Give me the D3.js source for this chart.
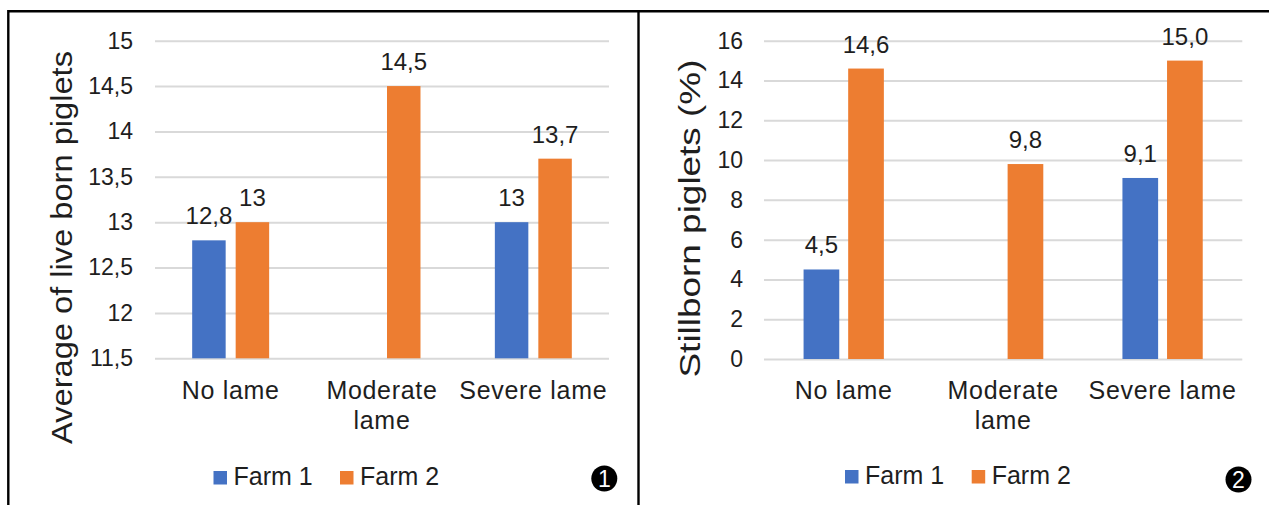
<!DOCTYPE html>
<html>
<head>
<meta charset="utf-8">
<script src="https://cdn.jsdelivr.net/npm/d3@7"></script>
<style>
  html, body { margin: 0; padding: 0; background: #fff; }
  svg { display: block; }
  text { font-family: "Liberation Sans", Arial, sans-serif; fill: #1e1e1e; }
</style>
</head>
<body>
<svg id="fig" width="1269" height="505"></svg>
<script>
// Lameness categories (x-axis) and how their labels wrap
const categories = ["No lame", "Moderate lame", "Severe lame"];
const categoryLines = [["No lame"], ["Moderate", "lame"], ["Severe lame"]];
const seriesNames = ["Farm 1", "Farm 2"];

// Panel 1: average number of live born piglets
const liveBornFarm1 = [12.8, null, 13.0];
const liveBornFarm2 = [13.0, 14.5, 13.7];
const liveBornTicks = [11.5, 12, 12.5, 13, 13.5, 14, 14.5, 15];

// Panel 2: stillborn piglets (%)
const stillbornFarm1 = [4.5, null, 9.1];
const stillbornFarm2 = [14.6, 9.8, 15.0];
const stillbornTicks = [0, 2, 4, 6, 8, 10, 12, 14, 16];

const colors = { "Farm 1": "#4472C4", "Farm 2": "#ED7D31" };
const comma = s => s.replace(".", ",");

const svg = d3.select("#fig");

// Frame around both panels and the divider between them
const frame = svg.append("g").attr("fill", "none").attr("stroke", "#000").attr("stroke-width", 2.4);
frame.append("path").attr("d", "M8.3,520 V11.2 H1275");
frame.append("line").attr("x1", 638.5).attr("x2", 638.5).attr("y1", 11.2).attr("y2", 520);

function drawPanel(cfg) {
  const g = svg.append("g");
  const x0 = d3.scaleBand().domain(categories).range([cfg.left, cfg.right]).padding(0);
  const x1 = d3.scaleBand().domain(seriesNames).range([0, x0.bandwidth()])
    .paddingInner(cfg.padInner).paddingOuter(cfg.padOuter);
  const y = d3.scaleLinear().domain(cfg.domain).range([cfg.bottom, cfg.top]);

  // Horizontal gridlines with tick labels
  const axis = d3.axisLeft(y).tickValues(cfg.ticks).tickFormat(cfg.tickFormat)
    .tickSize(-(cfg.right - cfg.left)).tickPadding(cfg.tickPad);
  const ag = g.append("g").attr("transform", `translate(${cfg.left},0)`).call(axis);
  ag.select(".domain").remove();
  ag.selectAll(".tick line").attr("stroke", "#d9d9d9").attr("stroke-width", 2);
  ag.selectAll(".tick text").attr("font-size", 23).attr("fill", "#1e1e1e")
    .attr("font-family", "Liberation Sans, Arial, sans-serif");

  // Bars and value labels
  const rows = [];
  categories.forEach((c, i) => {
    rows.push({ cat: c, series: "Farm 1", v: cfg.s1[i] });
    rows.push({ cat: c, series: "Farm 2", v: cfg.s2[i] });
  });
  const valid = rows.filter(r => r.v !== null);
  const base = cfg.domain[0];
  g.append("g").selectAll("rect").data(valid).join("rect")
    .attr("x", d => x0(d.cat) + x1(d.series))
    .attr("width", x1.bandwidth())
    .attr("y", d => y(d.v))
    .attr("height", d => y(base) - y(d.v))
    .attr("fill", d => colors[d.series]);
  g.append("g").selectAll("text").data(valid).join("text")
    .attr("x", d => x0(d.cat) + x1(d.series) + x1.bandwidth() / 2)
    .attr("y", d => y(d.v) - 16)
    .attr("text-anchor", "middle")
    .attr("font-size", 24)
    .text(d => cfg.labelFormat(d.v));

  // Category labels
  const cl = g.append("g").selectAll("text").data(categories).join("text")
    .attr("x", d => x0(d) + x0.bandwidth() / 2)
    .attr("y", cfg.bottom + cfg.catGap)
    .attr("text-anchor", "middle")
    .attr("font-size", 25)
    .attr("letter-spacing", 0.7);
  cl.each(function(d, i) {
    d3.select(this).selectAll("tspan").data(categoryLines[i]).join("tspan")
      .attr("x", x0(d) + x0.bandwidth() / 2)
      .attr("dy", (t, j) => j === 0 ? 0 : 30)
      .text(t => t);
  });

  // Y-axis title
  g.append("text")
    .attr("transform", `translate(${cfg.titleX},${cfg.titleY}) rotate(-90)`)
    .attr("text-anchor", "middle")
    .attr("font-size", cfg.titleSize)
    .attr("textLength", cfg.titleLength)
    .attr("lengthAdjust", "spacingAndGlyphs")
    .text(cfg.title);

  // Legend
  const lg = g.append("g");
  seriesNames.forEach((s, i) => {
    lg.append("rect").attr("x", cfg.legendX[i]).attr("y", cfg.legendY - 14)
      .attr("width", 13.5).attr("height", 13.5).attr("fill", colors[s]);
    lg.append("text").attr("x", cfg.legendX[i] + 20).attr("y", cfg.legendY)
      .attr("font-size", 25).text(s);
  });

  // Panel number badge
  g.append("circle").attr("cx", cfg.badge[0]).attr("cy", cfg.badge[1]).attr("r", 13).attr("fill", "#000");
  g.append("text").attr("x", cfg.badge[0]).attr("y", cfg.badge[1] + 8)
    .attr("text-anchor", "middle").attr("font-size", 23)
    .attr("font-family", "Liberation Serif, Times New Roman, serif")
    .style("fill", "#fff").text(cfg.badgeText);
}

drawPanel({
  left: 155, right: 609, top: 40.7, bottom: 358.3,
  domain: [11.5, 15], ticks: liveBornTicks,
  tickFormat: d => comma(String(d)), tickPad: 22,
  labelFormat: v => comma(String(v)),
  s1: liveBornFarm1, s2: liveBornFarm2,
  padInner: 0.23, padOuter: 0.855, catGap: 41,
  title: "Average of live born piglets", titleX: 72, titleY: 247.5, titleSize: 30, titleLength: 393,
  legendX: [213.5, 340], legendY: 485,
  badge: [604.3, 478.5], badgeText: "1"
});

drawPanel({
  left: 764, right: 1242.3, top: 40.7, bottom: 359,
  domain: [0, 16], ticks: stillbornTicks,
  tickFormat: d => String(d), tickPad: 21,
  labelFormat: v => comma(v.toFixed(1)),
  s1: stillbornFarm1, s2: stillbornFarm2,
  padInner: 0.2, padOuter: 0.887, catGap: 39.5,
  title: "Stillborn piglets (%)", titleX: 700, titleY: 218.5, titleSize: 29, titleLength: 318,
  legendX: [845, 971.7], legendY: 484,
  badge: [1238.5, 479.5], badgeText: "2"
});
</script>
</body>
</html>
